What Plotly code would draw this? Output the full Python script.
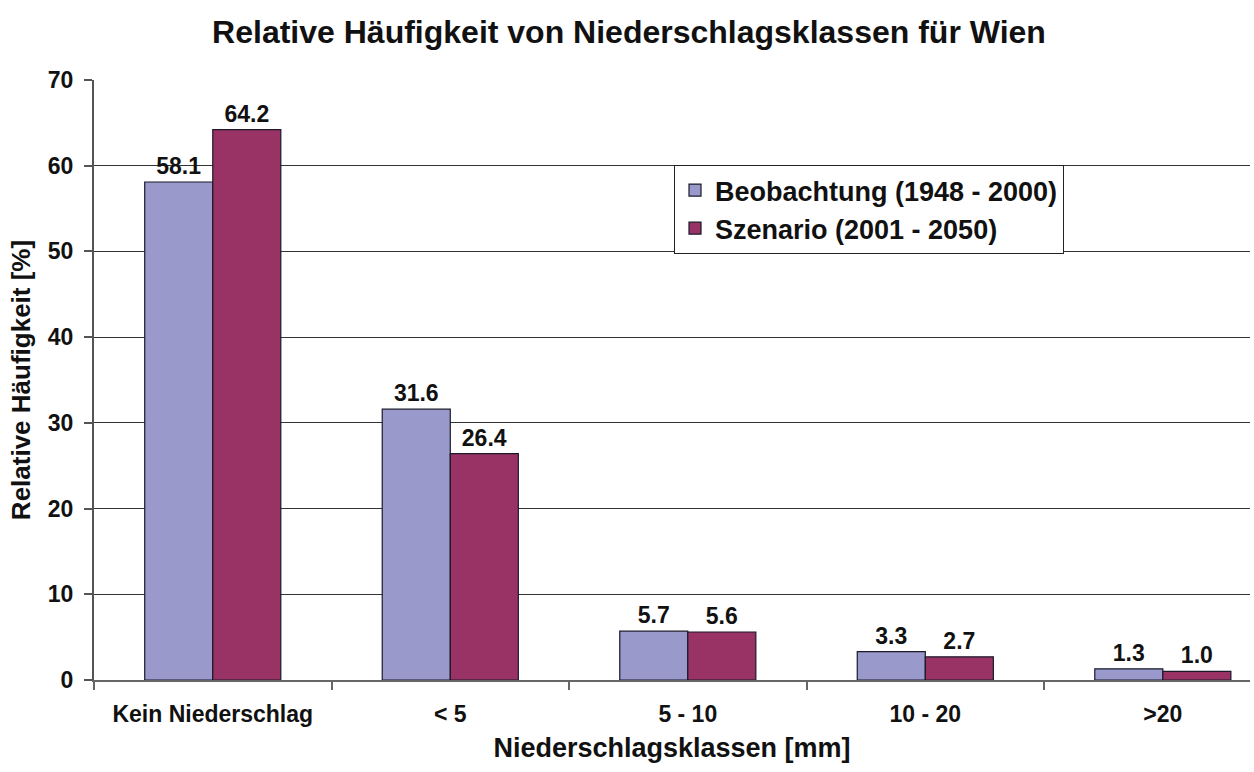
import plotly.graph_objects as go

categories = ["Kein Niederschlag", "< 5", "5 - 10", "10 - 20", ">20"]
beobachtung = [58.1, 31.6, 5.7, 3.3, 1.3]
szenario = [64.2, 26.4, 5.6, 2.7, 1.0]
series_names = ["Beobachtung (1948 - 2000)", "Szenario (2001 - 2050)"]
colors = ["#9999CC", "#993366"]

FONT = "Liberation Sans, Arial, sans-serif"

fig = go.Figure()
for name, vals, col in zip(series_names, [beobachtung, szenario], colors):
    fig.add_trace(go.Bar(
        x=categories, y=vals, name=name,
        marker=dict(color=col, line=dict(color="#1a1a2a", width=1.2)),
        text=[f"{v:.1f}" for v in vals], textposition="outside",
        textfont=dict(family=FONT, size=23, color="#111", weight="bold"),
        cliponaxis=False,
    ))

fig.update_layout(
    width=1254, height=772,
    paper_bgcolor="white", plot_bgcolor="white",
    barmode="group", bargap=0.427, bargroupgap=0,
    margin=dict(l=94, r=4, t=80, b=92, autoexpand=False),
    title=dict(text="Relative Häufigkeit von Niederschlagsklassen für Wien",
               x=0.5016, xanchor="center", y=1 - 32 / 772, yanchor="middle",
               yref="container",
               font=dict(family=FONT, size=32, color="#111", weight="bold")),
    font=dict(family=FONT, color="#111"),
    showlegend=True,
    legend=dict(x=(674 - 94) / 1156, y=(680 - 165) / 600, xanchor="left", yanchor="top",
                bgcolor="white", bordercolor="#222", borderwidth=1,
                font=dict(family=FONT, size=27, color="#111", weight="bold"),
                itemwidth=30, tracegroupgap=0),
)
fig.update_xaxes(
    range=[-0.5, 4.367], showline=True, linecolor="#666", linewidth=2,
    ticks="outside", tickson="boundaries", ticklen=8, tickcolor="#666", tickwidth=1.5,
    tickfont=dict(family=FONT, size=23, color="#111", weight="bold"),
    ticklabelstandoff=12,
    automargin=False,
    title=dict(text="Niederschlagsklassen [mm]",
               font=dict(family=FONT, size=27, color="#111", weight="bold"), standoff=13),
    showgrid=False,
)
fig.update_yaxes(
    range=[0, 70], dtick=10, showline=True, linecolor="#555", linewidth=2,
    ticks="outside", ticklen=8, tickcolor="#555", tickwidth=1.5,
    tickfont=dict(family=FONT, size=23, color="#111", weight="bold"),
    ticklabelstandoff=6,
    automargin=False,
    showgrid=True, gridcolor="#333", gridwidth=1.2,
    zeroline=False,
    title=dict(text="Relative Häufigkeit [%]",
               font=dict(family=FONT, size=26, color="#111", weight="bold"), standoff=10),
)
fig.write_html("out.html", config={"displayModeBar": False},
               post_script="document.body.style.margin='0px';")
